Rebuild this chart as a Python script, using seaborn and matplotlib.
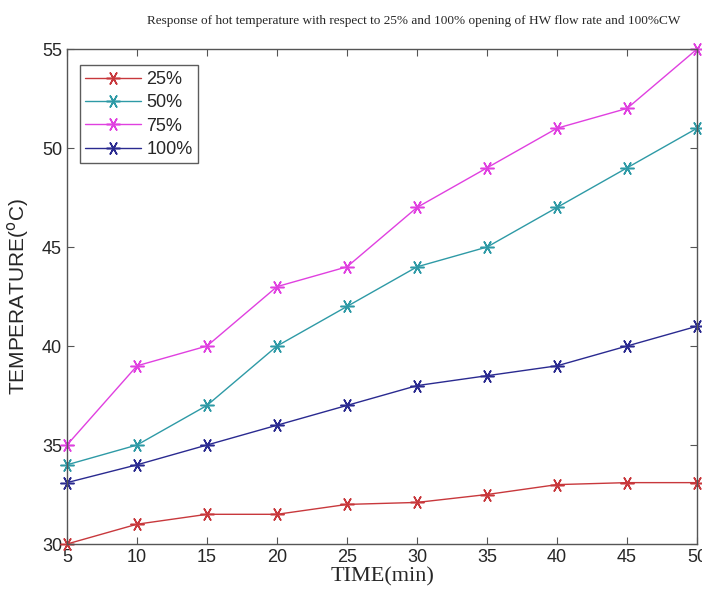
import pandas as pd
import numpy as np
import matplotlib
matplotlib.use("Agg")
import matplotlib.pyplot as plt
import seaborn as sns

time = [5, 10, 15, 20, 25, 30, 35, 40, 45, 50]
t25 = [30, 31, 31.5, 31.5, 32, 32.1, 32.5, 33, 33.1, 33.1]
t50 = [34, 35, 37, 40, 42, 44, 45, 47, 49, 51]
t75 = [35, 39, 40, 43, 44, 47, 49, 51, 52, 55]
t100 = [33.1, 34, 35, 36, 37, 38, 38.5, 39, 40, 41]
labels = ["25%", "50%", "75%", "100%"]
colors = ["#c8383c", "#2e9aa6", "#e040e0", "#2a2a90"]

rows = []
for lab, vals in zip(labels, [t25, t50, t75, t100]):
    for t, v in zip(time, vals):
        rows.append({"time": t, "temp": v, "opening": lab})
df = pd.DataFrame(rows)

sns.set_style("ticks")
plt.rcParams["font.family"] = ["Liberation Sans", "DejaVu Sans"]

fig = plt.figure(figsize=(7.02, 5.95), dpi=100)
ax = fig.add_axes([0.0954, 0.0857, 0.8976, 0.8319])

# asterisk markers like the MATLAB '*'
sns.lineplot(data=df, x="time", y="temp", hue="opening", hue_order=labels,
             palette=colors, marker=(6, 2, 90), markersize=10, markeredgewidth=1.1,
             linewidth=1.0, ax=ax)
for ln in ax.lines:
    ln.set_markeredgecolor(ln.get_color())
    ln.set_clip_on(False)

ax.set_xlim(5, 50)
ax.set_ylim(30, 55)
ax.set_xticks(time)
ax.set_yticks([30, 35, 40, 45, 50, 55])
ax.tick_params(direction="in", top=True, right=True, labelsize=13, length=5,
               color="#555555")
for s in ax.spines.values():
    s.set_color("#555555")
    s.set_linewidth(1.0)

ax.set_xlabel("TIME(min)", fontsize=16, family=["Liberation Serif"], labelpad=1)
ax.set_ylabel(r"TEMPERATURE($^{\rm o}$C)", fontsize=15, labelpad=8)
fig.suptitle("Response of hot temperature with respect to 25% and 100% opening of HW flow rate and 100%CW",
             fontsize=9.5, family=["Liberation Serif"], x=0.59, y=0.975)

leg = ax.legend(loc="upper left", bbox_to_anchor=(0.006, 0.985), fontsize=13,
                frameon=True, fancybox=False, edgecolor="#333333",
                handlelength=3.1, borderpad=0.3, labelspacing=0.35,
                handletextpad=0.3)
leg.get_frame().set_linewidth(1.0)
for h in leg.legend_handles:
    h.set_markeredgecolor(h.get_color())

fig.savefig("out.png", dpi=100)
